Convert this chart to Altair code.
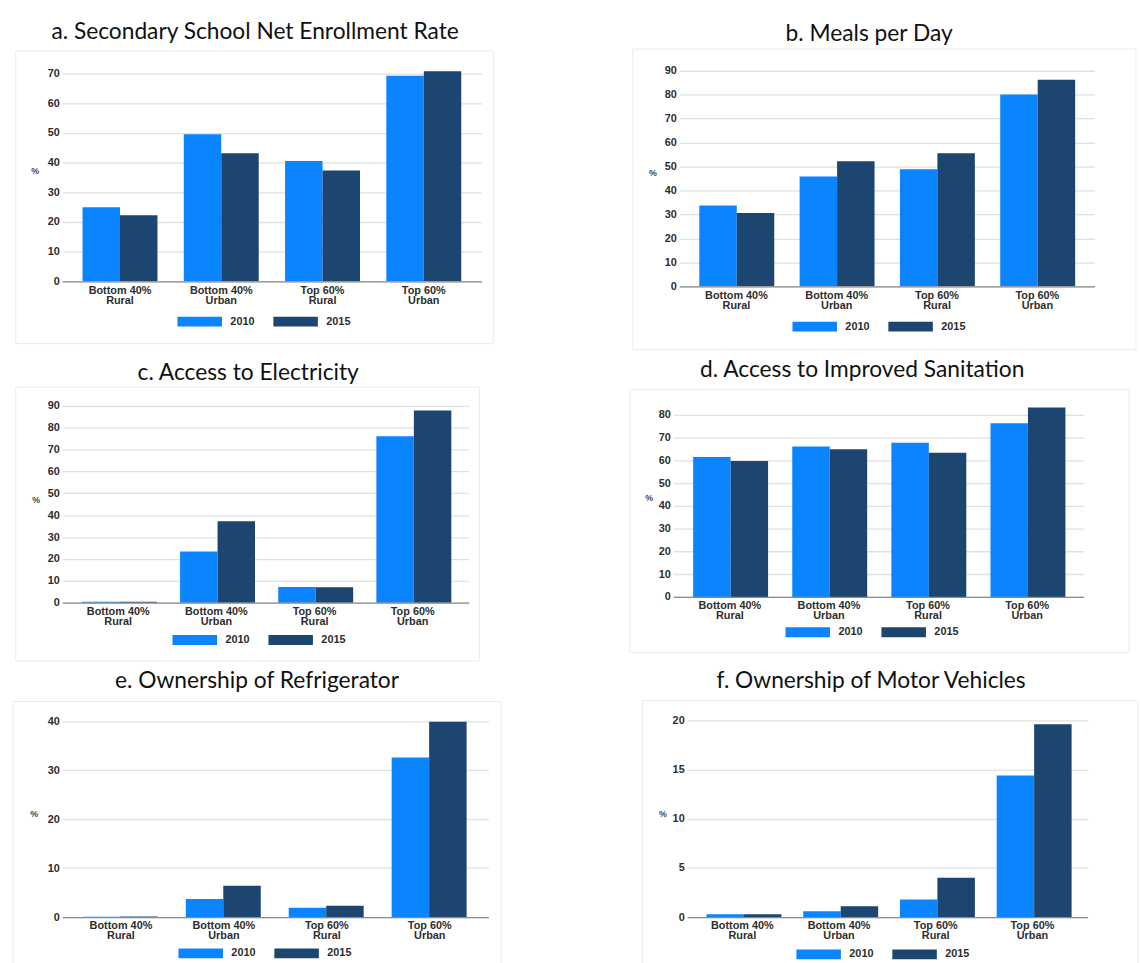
import altair as alt
import pandas as pd

# Categories, years and series colours
GROUPS = ["Bottom 40%\nRural", "Bottom 40%\nUrban", "Top 60%\nRural", "Top 60%\nUrban"]
YEARS = ["2010", "2015"]
COLORS = ["#0A84FF", "#1C4670"]

# Panel values (%), in GROUPS order
enroll_2010 = [25.0, 49.6, 40.6, 69.3]
enroll_2015 = [22.3, 43.2, 37.4, 70.8]
meals_2010 = [33.7, 45.8, 48.9, 80.1]
meals_2015 = [30.6, 52.2, 55.6, 86.2]
elec_2010 = [0.4, 23.4, 7.2, 76.1]
elec_2015 = [0.4, 37.3, 7.1, 87.9]
sanit_2010 = [61.5, 66.2, 67.8, 76.4]
sanit_2015 = [59.8, 65.0, 63.4, 83.3]
fridge_2010 = [0.05, 3.7, 1.9, 32.6]
fridge_2015 = [0.1, 6.4, 2.3, 39.9]
motor_2010 = [0.3, 0.6, 1.8, 14.4]
motor_2015 = [0.3, 1.1, 4.0, 19.6]

# Panel titles and y-axis tick values
TITLES = [
    "a. Secondary School Net Enrollment Rate",
    "b. Meals per Day",
    "c. Access to Electricity",
    "d. Access to Improved Sanitation",
    "e. Ownership of Refrigerator",
    "f. Ownership of Motor Vehicles",
]
TICKS_70 = [0, 10, 20, 30, 40, 50, 60, 70]
TICKS_90 = [0, 10, 20, 30, 40, 50, 60, 70, 80, 90]
TICKS_80 = [0, 10, 20, 30, 40, 50, 60, 70, 80]
TICKS_40 = [0, 10, 20, 30, 40]
TICKS_20 = [0, 5, 10, 15, 20]

AXIS_FONT = "Liberation Sans"
AXIS_SIZE = 11
AXIS_COLOR = "#2e2e2e"
TITLE_FONT = "Lato"

# Page layout of each panel (pixels): plot = (left, width, zero-line y, px per unit)
LAYOUTS = [
    dict(plot=(55, 424, 278, 3.0), cell=(0, 0, 570, 347), box=(8, 45, 491, 341),
         title=(250, 33), pct=(31, 166), legend=(177, 319)),
    dict(plot=(677, 420, 281, 218 / 90), cell=(570, 0, 1140, 347), box=(630, 41, 1139, 345),
         title=(869, 33), pct=(654, 166), legend=(797, 322)),
    dict(plot=(62, 411, 596, 199 / 90), cell=(0, 347, 570, 657), box=(15, 378, 484, 655),
         title=(250, 371), pct=(39, 492), legend=(179, 634)),
    dict(plot=(678, 415, 593, 2.3), cell=(570, 347, 1140, 657), box=(634, 383, 1139, 649),
         title=(869, 371), pct=(657, 492), legend=(797, 629)),
    dict(plot=(53, 431, 912, 4.95), cell=(0, 657, 570, 963), box=(3, 694, 497, 962.5),
         title=(250, 680), pct=(28, 807), legend=(176, 949)),
    dict(plot=(683, 405, 912, 9.95), cell=(570, 657, 1140, 963), box=(638, 693, 1139, 962.5),
         title=(869, 680), pct=(662, 807), legend=(799, 950)),
]


def panel(title, v2010, v2015, ticks, dmax, lay):
    px, pw, z0, k = lay["plot"]
    ph = dmax * k
    py = z0 - ph

    df = pd.DataFrame({
        "group": GROUPS * 2,
        "year": [YEARS[0]] * len(GROUPS) + [YEARS[1]] * len(GROUPS),
        "value": list(v2010) + list(v2015),
    })
    one = pd.DataFrame({"t": [title]})

    cx0, cy0, cx1, cy1 = lay["cell"]
    bx0, by0, bx1, by1 = lay["box"]
    tx, ty = lay["title"]
    pcx, pcy = lay["pct"]
    lx, ly = lay["legend"]

    # invisible frame that fixes the panel's footprint on the page
    cell = alt.Chart(one).mark_rect(opacity=0).encode(
        x=alt.value(cx0 - px), x2=alt.value(cx1 - px),
        y=alt.value(cy0 - py), y2=alt.value(cy1 - py),
    )
    # faint border around the graph area
    box = alt.Chart(one).mark_rect(fill="transparent", stroke="#ebebeb", strokeWidth=1).encode(
        x=alt.value(bx0 - px), x2=alt.value(bx1 - px),
        y=alt.value(by0 - py), y2=alt.value(by1 - py),
    )
    head = alt.Chart(one).mark_text(
        font=TITLE_FONT, fontSize=23, color="#111111", align="center", baseline="alphabetic"
    ).encode(text="t:N", x=alt.value(tx - px), y=alt.value(ty - py))

    bars = alt.Chart(df).mark_bar().encode(
        x=alt.X(
            "group:N", sort=GROUPS,
            scale=alt.Scale(paddingInner=0.26, paddingOuter=0.2),
            axis=alt.Axis(
                title=None, labelAngle=0, ticks=False, labelPadding=3,
                labelExpr="split(datum.label, '\\n')", labelLineHeight=10,
                labelFont=AXIS_FONT, labelFontSize=AXIS_SIZE, labelFontWeight="bold",
                labelColor=AXIS_COLOR,
                domainColor="#8c8c8c", domainWidth=1.3, grid=False, zindex=1,
            ),
        ),
        xOffset=alt.XOffset("year:N", sort=YEARS),
        y=alt.Y(
            "value:Q",
            scale=alt.Scale(domain=[0, dmax], nice=False, zero=True),
            axis=alt.Axis(
                values=ticks, title="%", titleAngle=0, titleAlign="right",
                titleBaseline="middle", titleX=pcx - px, titleY=pcy - py,
                titleFont=AXIS_FONT, titleFontSize=9, titleFontWeight="bold",
                titleColor="#444444",
                labelFont=AXIS_FONT, labelFontSize=AXIS_SIZE, labelFontWeight="bold",
                labelColor=AXIS_COLOR,
                labelPadding=3, ticks=False, domain=False,
                grid=True, gridColor="#e0e0e0", gridWidth=1.3,
            ),
        ),
        color=alt.Color(
            "year:N",
            scale=alt.Scale(domain=YEARS, range=COLORS),
            legend=alt.Legend(
                title=None, orient="none", direction="horizontal",
                legendX=lx - px - 6, legendY=ly - py - 6,
                symbolType="M-1,-1L8,-1L8,1L-1,1Z", symbolSize=100,
                symbolStrokeWidth=0, symbolOpacity=1,
                labelOffset=43, columnPadding=18,
                labelFont=AXIS_FONT, labelFontSize=AXIS_SIZE, labelFontWeight="bold",
                labelColor=AXIS_COLOR,
            ),
        ),
    )
    return alt.layer(cell, box, bars, head).properties(width=pw, height=ph)


pa = panel(TITLES[0], enroll_2010, enroll_2015, TICKS_70, 71, LAYOUTS[0])
pb = panel(TITLES[1], meals_2010, meals_2015, TICKS_90, 90, LAYOUTS[1])
pc = panel(TITLES[2], elec_2010, elec_2015, TICKS_90, 90, LAYOUTS[2])
pd_ = panel(TITLES[3], sanit_2010, sanit_2015, TICKS_80, 84, LAYOUTS[3])
pe = panel(TITLES[4], fridge_2010, fridge_2015, TICKS_40, 40.2, LAYOUTS[4])
pf = panel(TITLES[5], motor_2010, motor_2015, TICKS_20, 20, LAYOUTS[5])


def row(left, right):
    return (
        alt.hconcat(left, right, spacing=0)
        .resolve_scale(color="independent")
        .resolve_legend(color="independent")
    )


chart = (
    alt.vconcat(row(pa, pb), row(pc, pd_), row(pe, pf), spacing=0)
    .resolve_scale(color="independent")
    .resolve_legend(color="independent")
    .properties(padding=0, background="white")
    .configure_view(stroke="transparent")
)

chart.save("out.html", embed_options={"renderer": "svg", "actions": False})
